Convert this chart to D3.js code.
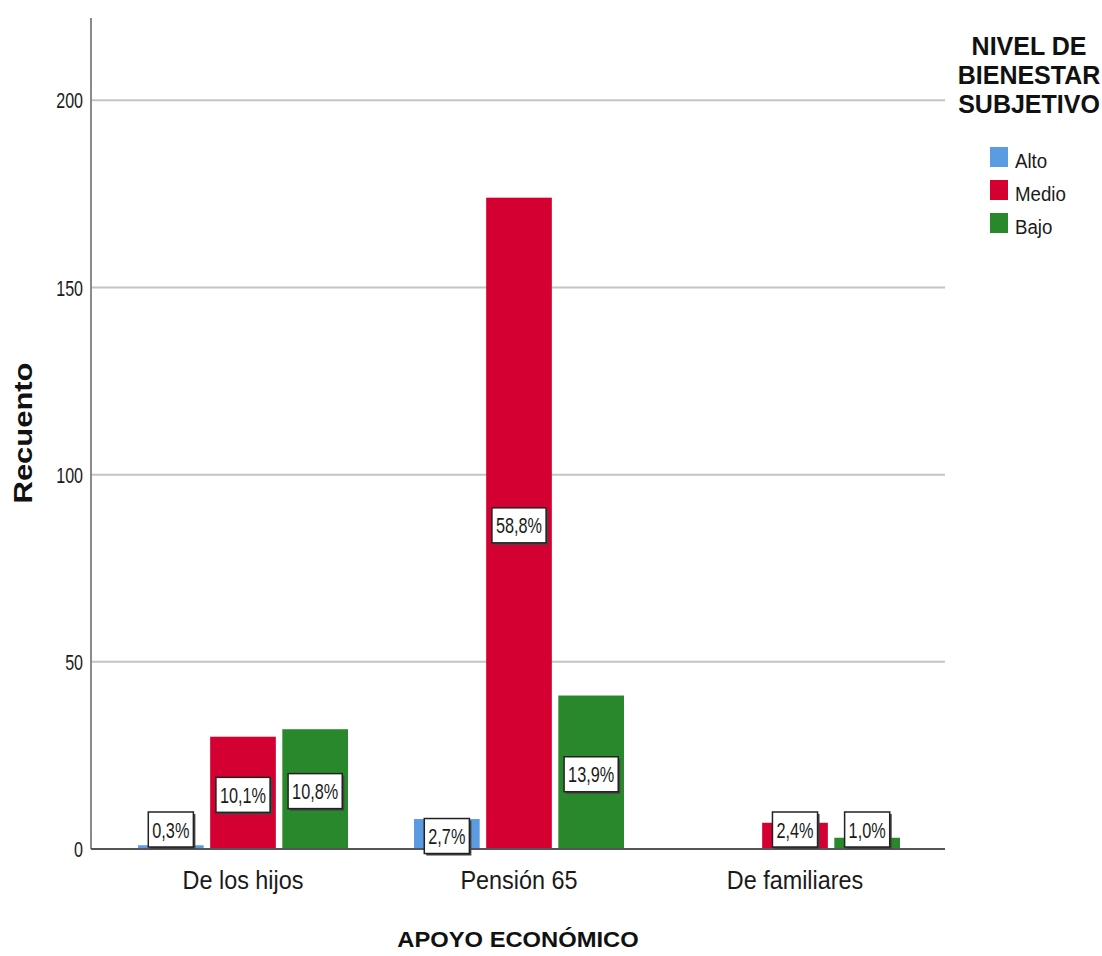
<!DOCTYPE html>
<html>
<head>
<meta charset="utf-8">
<script src="https://cdn.jsdelivr.net/npm/d3@7"></script>
<style>
  body { margin: 0; background: #fff; }
  text { font-family: "Liberation Sans", Arial, sans-serif; }
</style>
</head>
<body>
<svg id="chart" width="1102" height="956"></svg>
<script>
// datos
const categorias = ["De los hijos", "Pensión 65", "De familiares"];
const niveles = ["Alto", "Medio", "Bajo"];
const alto = [1, 8, 0];
const medio = [30, 174, 7];
const bajo = [32, 41, 3];
const etiquetas_alto = ["0,3%", "2,7%", null];
const etiquetas_medio = ["10,1%", "58,8%", "2,4%"];
const etiquetas_bajo = ["10,8%", "13,9%", "1,0%"];
const ticks_y = [0, 50, 100, 150, 200];
const colores = ["#5b9be1", "#d50032", "#2a882c"];

const series = [alto, medio, bajo];
const etiquetas = [etiquetas_alto, etiquetas_medio, etiquetas_bajo];

const svg = d3.select("#chart");
const mLeft = 91, mRight = 945, mTop = 18, mBottom = 849;

const y = d3.scaleLinear().domain([0, 222]).range([mBottom, mTop]);
const x0 = d3.scaleBand().domain(categorias).range([105, 933]).padding(0);
const x1 = d3.scaleBand().domain(niveles).range([33, 243]).paddingInner(0.09);

// texto estrecho (como Arial Narrow de SPSS)
function texto(parent, x, yy, str, size, sx, anchor, extra) {
  return parent.append("text")
    .attr("transform", `translate(${x},${yy}) ${extra || ""} scale(${sx},1)`)
    .attr("text-anchor", anchor || "start")
    .attr("font-size", size).attr("fill", "#1a1a1a")
    .text(str);
}

// lineas de la cuadricula
svg.append("g").selectAll("line").data(ticks_y.filter(d => d > 0)).join("line")
  .attr("x1", mLeft).attr("x2", mRight)
  .attr("y1", d => y(d)).attr("y2", d => y(d))
  .attr("stroke", "#c4c4c4").attr("stroke-width", 2);

// eje y
const yTicks = svg.append("g");
ticks_y.forEach(t => texto(yTicks, 83, y(t) + 8, t, 22, 0.73, "end"));
svg.append("line").attr("x1", mLeft).attr("x2", mLeft).attr("y1", mTop).attr("y2", mBottom)
  .attr("stroke", "#8a8a8a").attr("stroke-width", 2);

// barras
const grupos = svg.append("g").selectAll("g").data(categorias).join("g")
  .attr("transform", d => `translate(${x0(d)},0)`);

grupos.each(function (cat, ci) {
  const g = d3.select(this);
  niveles.forEach((niv, si) => {
    const v = series[si][ci];
    if (v > 0) {
      g.append("rect")
        .attr("x", x1(niv)).attr("width", x1.bandwidth())
        .attr("y", y(v)).attr("height", mBottom - y(v))
        .attr("fill", colores[si]);
    }
  });
});

// eje x
svg.append("line").attr("x1", mLeft).attr("x2", mRight).attr("y1", mBottom).attr("y2", mBottom)
  .attr("stroke", "#555").attr("stroke-width", 2);
const xTicks = svg.append("g");
categorias.forEach(c => texto(xTicks, x0(c) + x0.bandwidth() / 2, 889, c, 26, 0.9, "middle"));

// etiquetas con caja
const capaEtiquetas = svg.append("g");
categorias.forEach((cat, ci) => {
  niveles.forEach((niv, si) => {
    const lab = etiquetas[si][ci];
    if (!lab) return;
    const v = series[si][ci];
    const cx = x0(cat) + x1(niv) + x1.bandwidth() / 2;
    const h = 35;
    let cy = (y(v) + mBottom) / 2 + 2;
    if (mBottom - y(v) < 28) cy = 847 - h / 2;
    const g = capaEtiquetas.append("g");
    const sombra = g.append("rect").attr("fill", "#444");
    const caja = g.append("rect").attr("fill", "#fff").attr("stroke", "#222").attr("stroke-width", 1.5);
    const t = texto(g, cx, cy + 8, lab, 22, 0.74, "middle");
    const w = t.node().getComputedTextLength() * 0.74 + 8;
    sombra.attr("x", cx - w / 2 + 2).attr("y", cy - h / 2 + 2).attr("width", w).attr("height", h);
    caja.attr("x", cx - w / 2).attr("y", cy - h / 2).attr("width", w).attr("height", h);
  });
});

// titulos de ejes
texto(svg, 518, 947, "APOYO ECONÓMICO", 22, 1.08, "middle").attr("font-weight", "bold").attr("fill", "#111");
texto(svg, 32, 433, "Recuento", 26, 1.19, "middle", "rotate(-90)").attr("font-weight", "bold").attr("fill", "#111");

// leyenda
const tituloLeyenda = ["NIVEL DE", "BIENESTAR", "SUBJETIVO"];
tituloLeyenda.forEach((d, i) =>
  texto(svg, 1029, 55 + i * 29, d, 25, 1, "middle").attr("font-weight", "bold").attr("fill", "#111"));

const leg = svg.append("g").selectAll("g").data(niveles).join("g")
  .attr("transform", (d, i) => `translate(990,${147 + i * 33})`);
leg.append("rect").attr("width", 18).attr("height", 20).attr("fill", (d, i) => colores[i]);
leg.each(function (d) { texto(d3.select(this), 25, 21, d, 21, 0.89, "start"); });
</script>
</body>
</html>
